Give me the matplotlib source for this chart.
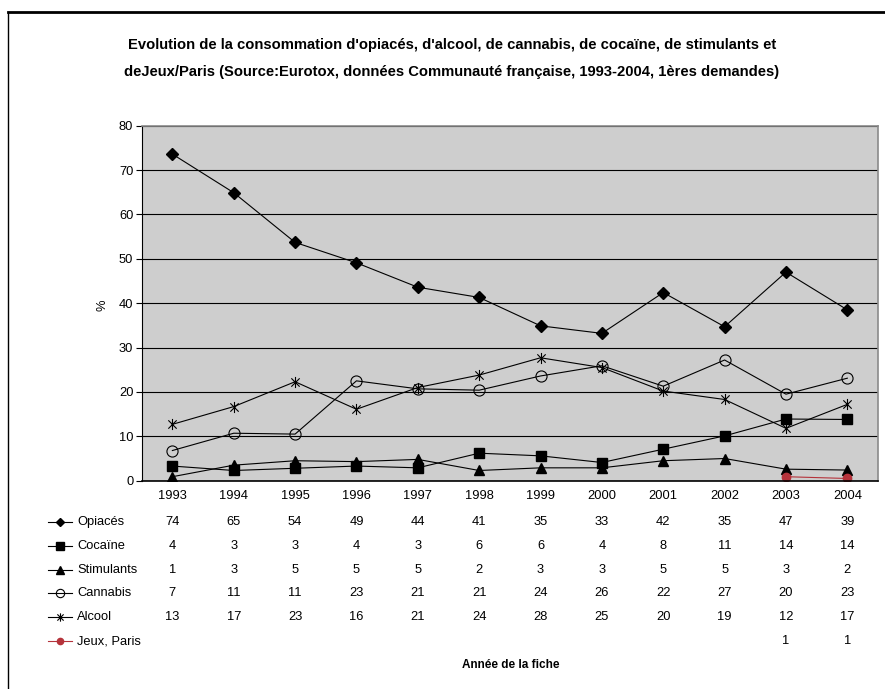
import numpy as np
import matplotlib
matplotlib.use("Agg")
import matplotlib.pyplot as plt
from matplotlib.path import Path
from matplotlib.lines import Line2D
import matplotlib.transforms as mtransforms

plt.rcParams['font.family'] = ['Liberation Sans', 'DejaVu Sans']

years = [1993, 1994, 1995, 1996, 1997, 1998, 1999, 2000, 2001, 2002, 2003, 2004]

# plotted values
opiaces = [73.6, 64.9, 53.7, 49.1, 43.6, 41.3, 34.9, 33.2, 42.4, 34.7, 47.0, 38.5]
cocaine = [3.3, 2.3, 2.8, 3.3, 2.9, 6.2, 5.6, 4.1, 7.1, 10.1, 13.9, 13.8]
stimulants = [0.9, 3.5, 4.5, 4.3, 4.8, 2.3, 2.9, 2.9, 4.5, 5.0, 2.6, 2.4]
cannabis = [6.8, 10.7, 10.5, 22.5, 20.7, 20.4, 23.6, 25.9, 21.3, 27.2, 19.5, 23.1]
alcool = [12.7, 16.7, 22.3, 16.1, 21.0, 23.8, 27.7, 25.5, 20.2, 18.3, 11.8, 17.2]
jeux = [np.nan] * 10 + [0.9, 0.5]

# data table values (as printed)
tab_opiaces = [74, 65, 54, 49, 44, 41, 35, 33, 42, 35, 47, 39]
tab_cocaine = [4, 3, 3, 4, 3, 6, 6, 4, 8, 11, 14, 14]
tab_stimulants = [1, 3, 5, 5, 5, 2, 3, 3, 5, 5, 3, 2]
tab_cannabis = [7, 11, 11, 23, 21, 21, 24, 26, 22, 27, 20, 23]
tab_alcool = [13, 17, 23, 16, 21, 24, 28, 25, 20, 19, 12, 17]
tab_jeux = [None] * 10 + [1, 1]

# excel-like star: vertical bar + X
star = Path([(0, -1), (0, 1), (-0.75, -0.75), (0.75, 0.75), (-0.75, 0.75), (0.75, -0.75)],
            [Path.MOVETO, Path.LINETO, Path.MOVETO, Path.LINETO, Path.MOVETO, Path.LINETO])

red = '#b5333b'
series = [
    ("Opiacés", opiaces, tab_opiaces, dict(marker='D', ms=6, mfc='black', mec='black', color='black')),
    ("Cocaïne", cocaine, tab_cocaine, dict(marker='s', ms=7.5, mfc='black', mec='black', color='black')),
    ("Stimulants", stimulants, tab_stimulants, dict(marker='^', ms=7, mfc='black', mec='black', color='black')),
    ("Cannabis", cannabis, tab_cannabis, dict(marker='o', ms=8, mfc='none', mec='black', color='black', mew=0.8)),
    ("Alcool", alcool, tab_alcool, dict(marker=star, ms=8, mec='black', color='black', mew=0.8)),
    ("Jeux, Paris", jeux, tab_jeux, dict(marker='o', ms=6, mfc=red, mec=red, color=red)),
]

W, H = 885, 689
fig = plt.figure(figsize=(W / 100, H / 100), dpi=100)
ax = fig.add_axes([141.7 / W, 1 - 480.7 / H, (878 - 141.7) / W, (480.7 - 125.7) / H])
ax.set_facecolor('#cecece')

x = np.arange(len(years))
for name, vals, tab, st in series:
    ax.plot(x, vals, lw=0.8, **st)

fs = 9.3
ax.set_xlim(-0.5, len(years) - 0.5)
ax.set_ylim(0, 80)
ax.set_yticks(range(0, 81, 10))
ax.yaxis.grid(True, color='black', lw=0.8)
ax.set_axisbelow(True)
ax.set_xticks(x)
ax.set_xticklabels([str(y) for y in years], fontsize=fs)
ax.tick_params(axis='x', length=0, pad=7)
ax.tick_params(axis='y', length=4, width=0.8, labelsize=fs, pad=2)
for s in ('top', 'right'):
    ax.spines[s].set_color('#8a8a8a')
    ax.spines[s].set_linewidth(1.2)
ax.spines['left'].set_linewidth(0.8)
ax.spines['bottom'].set_linewidth(1.2)

fig.text(102 / W, 1 - 305 / H, "%", rotation=90, ha='center', va='center', fontsize=fs)

# data table under the chart
tr = mtransforms.blended_transform_factory(ax.transData, fig.transFigure)
row0 = 522
for i, (name, vals, tab, st) in enumerate(series):
    yy = 1 - (row0 + i * 23.8) / H
    for j, v in enumerate(tab):
        if v is not None:
            fig.text(j, yy, str(v), transform=tr, ha='center', va='center', fontsize=fs)
    kst = dict(st)
    kst['ms'] = st['ms'] * 0.75
    fig.add_artist(Line2D([48 / W, 72 / W], [yy, yy], lw=0.8, color=st['color'], transform=fig.transFigure))
    fig.add_artist(Line2D([60 / W], [yy], lw=0, transform=fig.transFigure,
                          **{k: v for k, v in kst.items() if k != 'color'}))
    fig.text(77 / W, yy, name, ha='left', va='center', fontsize=fs)

fig.text(511 / W, 1 - 665 / H, "Année de la fiche", ha='center', va='center', fontsize=8.5, fontweight='bold')

fig.text(452 / W, 1 - 45 / H,
         "Evolution de la consommation d'opiacés, d'alcool, de cannabis, de cocaïne, de stimulants et",
         ha='center', va='center', fontsize=10.6, fontweight='bold')
fig.text(452 / W, 1 - 72 / H,
         "deJeux/Paris (Source:Eurotox, données Communauté française, 1993-2004, 1ères demandes)",
         ha='center', va='center', fontsize=10.6, fontweight='bold')

# chart frame (only top and left edges show)
fig.add_artist(Line2D([8 / W, 8 / W], [0, 1 - 12 / H], color='black', lw=1, transform=fig.transFigure))
fig.add_artist(Line2D([8 / W, 1], [1 - 12 / H, 1 - 12 / H], color='black', lw=2, transform=fig.transFigure))

fig.savefig("out.png", dpi=100)
